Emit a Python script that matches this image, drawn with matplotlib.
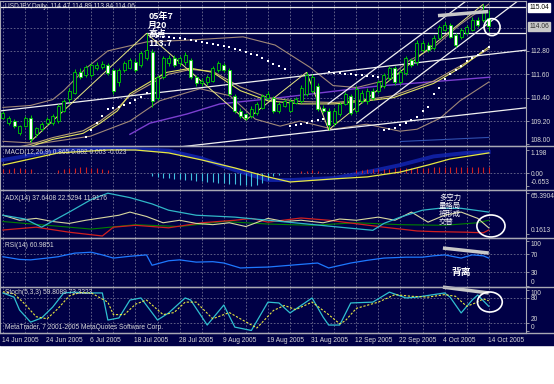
import numpy as np
import matplotlib.pyplot as plt
import matplotlib.transforms as mtransforms
from matplotlib.patches import Ellipse, Rectangle
from matplotlib.lines import Line2D

plt.rcParams['font.family'] = ['Liberation Sans', 'DejaVu Sans']

# USDJPY daily, bars 0..88 = 14 Jun 2005 .. 14 Oct 2005
opens = [109.35, 109.09, 109.20, 108.57, 108.94, 109.35, 108.52, 108.78, 109.09, 109.09,
         109.20, 109.72, 110.34, 110.66, 111.70, 111.54, 111.54, 111.91, 111.96, 112.06,
         111.80, 111.18, 111.80, 111.91, 112.22, 112.06, 112.43, 112.74, 110.40, 111.44,
         112.17, 112.43, 112.17, 112.22, 112.32, 111.44, 111.13, 111.18, 111.28, 111.80,
         112.06, 111.80, 110.50, 109.72, 109.56, 109.46, 109.61, 109.88, 110.40, 110.40,
         109.72, 109.98, 109.72, 110.14, 110.24, 110.60, 110.76, 111.02, 109.88, 109.72,
         109.09, 109.56, 110.08, 110.50, 109.72, 110.24, 110.24, 110.76, 110.76, 111.02,
         111.39, 111.91, 111.18, 111.65, 112.32, 112.22, 112.84, 113.10, 112.95, 113.47,
         113.89, 114.15, 113.63, 113.52, 113.73, 113.89, 114.41, 114.41, 114.47]
highs = [109.70, 109.45, 109.30, 109.00, 109.45, 109.50, 108.90, 109.15, 109.40, 109.55,
         110.10, 110.35, 110.90, 111.85, 111.90, 112.10, 112.20, 112.25, 112.30, 112.20,
         111.90, 111.90, 112.30, 112.45, 112.40, 112.80, 113.70, 112.90, 111.55, 112.55,
         112.60, 112.60, 112.55, 112.75, 112.45, 111.55, 111.40, 111.55, 112.00, 112.30,
         112.20, 111.90, 110.60, 109.85, 109.60, 109.95, 110.20, 110.60, 110.75, 110.50,
         110.20, 110.35, 110.35, 110.45, 111.05, 111.70, 111.60, 111.15, 110.00, 109.85,
         109.85, 110.20, 110.70, 110.60, 111.00, 110.80, 110.90, 110.90, 111.30, 111.65,
         112.05, 112.00, 111.85, 112.55, 112.45, 113.35, 113.35, 113.25, 113.60, 114.15,
         114.30, 114.25, 113.70, 114.00, 114.15, 114.55, 114.55, 115.19, 114.89]
lows = [109.30, 109.00, 108.85, 108.50, 108.90, 108.15, 108.40, 108.70, 109.00, 109.00,
        109.10, 109.65, 110.20, 110.60, 111.35, 111.45, 111.45, 111.80, 111.85, 111.55,
        110.60, 111.00, 111.70, 111.85, 111.70, 111.95, 112.35, 109.90, 110.30, 111.35,
        112.05, 111.95, 112.05, 112.10, 111.35, 111.00, 111.00, 111.05, 111.20, 111.70,
        111.70, 110.50, 109.60, 109.35, 109.25, 109.35, 109.50, 109.80, 110.30, 109.60,
        109.60, 109.90, 109.65, 110.05, 110.15, 110.50, 110.65, 109.70, 109.60, 108.75,
        108.95, 109.45, 110.00, 109.50, 109.60, 110.15, 110.10, 110.30, 110.65, 110.90,
        111.30, 111.05, 111.10, 111.55, 111.95, 112.10, 112.75, 112.75, 112.85, 113.40,
        113.80, 113.45, 113.00, 113.40, 113.65, 113.80, 114.05, 114.30, 113.84]
closes = [109.61, 109.35, 108.94, 108.94, 109.35, 108.26, 108.83, 109.04, 109.30, 109.46,
          109.98, 110.24, 110.76, 111.70, 111.44, 111.96, 112.06, 112.06, 112.11, 111.65,
          110.76, 111.80, 112.17, 112.32, 111.80, 112.69, 112.84, 110.24, 111.44, 112.43,
          112.43, 112.06, 112.43, 112.58, 111.44, 111.13, 111.28, 111.44, 111.91, 112.17,
          111.80, 110.60, 109.72, 109.46, 109.35, 109.82, 110.08, 110.50, 110.60, 109.72,
          110.08, 110.24, 110.24, 110.34, 110.92, 111.54, 111.44, 109.82, 109.72, 109.00,
          109.72, 110.08, 110.60, 109.61, 110.86, 110.66, 110.76, 110.40, 111.18, 111.54,
          111.91, 111.18, 111.70, 112.43, 112.06, 113.21, 113.21, 112.84, 113.47, 114.04,
          114.15, 113.52, 113.10, 113.89, 114.04, 114.41, 114.15, 114.77, 114.06]

date_pos = [0, 8, 16, 24, 32, 40, 48, 56, 64, 72, 80, 88]
date_labels = ['14 Jun 2005', '24 Jun 2005', '6 Jul 2005', '18 Jul 2005', '28 Jul 2005',
               '9 Aug 2005', '19 Aug 2005', '31 Aug 2005', '12 Sep 2005', '22 Sep 2005',
               '4 Oct 2005', '14 Oct 2005']

# parabolic SAR dots
sar_idx = list(range(15, 27)) + list(range(27, 52)) + list(range(52, 59)) + list(range(59, 69)) + list(range(69, 89))
sar_val = [108.40, 108.75, 109.10, 109.45, 109.80, 109.85, 109.90, 110.00, 110.15, 110.30, 110.45, 110.65,
           113.70, 113.55, 113.52, 113.50, 113.47, 113.44, 113.40, 113.36, 113.30, 113.26, 113.21, 113.15,
           113.10, 113.05, 113.00, 112.90, 112.84, 112.74, 112.66, 112.58, 112.45, 112.30, 112.15, 112.00, 111.85,
           108.95, 109.00, 109.04, 109.09, 109.20, 109.25, 109.30,
           111.70, 111.68, 111.65, 111.62, 111.60, 111.58, 111.55, 111.52, 111.50, 111.47,
           108.75, 108.78, 108.83, 109.00, 109.10, 109.25, 109.40, 109.70, 109.90, 110.60,
           110.90, 111.35, 111.60, 111.80, 112.05, 112.30, 112.45, 112.60, 112.80, 113.00]

# moving averages / bands
ma_y_idx = [0, 5, 9, 14.5, 17.6, 20.7, 23, 28, 29.7, 34, 38, 43, 48, 54, 60, 66, 70.7, 78, 83, 88]
ma_y_val = [107.60, 107.90, 108.26, 108.57, 109.09, 109.72, 110.60, 111.44, 111.70, 111.91, 111.70,
            110.76, 110.24, 110.08, 110.08, 110.24, 110.40, 111.13, 111.96, 113.00]
ma_t_idx = [0, 5, 9, 14.5, 17.6, 20.7, 23, 28, 30, 34, 38, 43, 48, 54, 60, 66, 70.7, 78, 83, 88]
ma_t_val = [107.70, 108.00, 108.35, 108.70, 109.20, 109.85, 110.50, 111.30, 111.60, 111.85, 111.75,
            110.95, 110.40, 110.20, 110.15, 110.30, 110.50, 111.25, 112.05, 112.90]
ma_p_idx = [23, 26.6, 33.3, 39.3, 50.2, 68, 88.2]
ma_p_val = [108.52, 109.09, 109.56, 110.08, 110.40, 111.00, 111.45]
bb_up_idx = [0, 5, 9, 11, 15, 19, 26, 34, 43.5, 49.3, 55.6, 59.8, 64.1, 69.2, 73.7, 77.9, 82.8, 88]
bb_up_val = [109.90, 110.00, 110.30, 110.76, 111.90, 112.80, 113.26, 113.36, 113.52, 113.10, 111.96,
             111.02, 110.92, 111.28, 112.32, 112.95, 114.15, 115.20]
bb_lo_idx = [0, 6.7, 15.8, 23, 28.4, 35.7, 41.1, 45.7, 50.2, 53.8, 59.8, 65.9, 71.9, 75, 79.2, 82.8, 88]
bb_lo_val = [108.16, 108.05, 108.42, 109.20, 110.24, 110.86, 110.50, 109.30, 108.94, 109.20, 108.78,
             109.04, 108.68, 108.78, 109.35, 110.24, 111.20]
blue_low_idx = [72, 88]
blue_low_val = [108.15, 108.36]

# zigzag and drawn lines
zz_idx = [5, 26, 44, 55, 59, 87]
zz_val = [108.15, 113.70, 109.25, 111.70, 108.75, 115.19]
line1 = ([-0.54, 94.75], [109.72, 112.84])
line2 = ([31.0, 94.75], [107.84, 109.88])
chan_up = ([58.9, 94.75], [110.08, 117.65])
chan_lo = ([64.1, 94.75], [109.09, 115.68])
high_0720 = ([26, 94.75], [113.70, 113.70])
div_main = ([78.8, 87.9], [114.61, 114.82])

# MACD
macd_hist = [0.20, 0.22, 0.25, 0.25, 0.22, 0.18, 0, 0, 0, 0,
             0.15, 0.20, 0.25, 0.28, 0.30, 0.30, 0.28, 0.25, 0.20, 0.15,
             0, 0, 0, 0, 0, 0, 0,
             -0.15, -0.20, -0.25, -0.28, -0.30, -0.32, -0.35, -0.38, -0.40, -0.42, -0.45,
             -0.48, -0.50, -0.52, -0.55, -0.58, -0.60, -0.63, -0.65, -0.62, -0.50, -0.35,
             -0.15, -0.10, 0, 0, 0,
             0.10, 0.12, 0.15, 0.10,
             0, 0, 0, 0, 0, 0,
             0.15, 0.16, 0.18, 0.18, 0.20, 0.22, 0.22, 0.24, 0.25, 0.26, 0.26, 0.27, 0.28,
             0.28, 0.29, 0.30, 0.30, 0.30, 0.30, 0.29, 0.29, 0.30, 0.30, 0.31, 0.30]
macd_y_idx = [0, 10, 19, 24, 30, 36, 42, 48, 52, 60, 66, 72, 77, 81, 88]
macd_y_val = [0.41, 1.03, 1.18, 1.18, 1.03, 0.67, 0.26, -0.20, -0.46, -0.30, -0.20, 0.05, 0.41, 0.72, 1.03]
macd_b_idx = [0, 10, 20, 30, 36, 42, 48, 52, 60, 66, 72, 78, 84, 88]
macd_b_val = [0.67, 1.15, 1.28, 1.15, 0.75, 0.15, -0.36, -0.36, -0.26, 0.05, 0.41, 0.85, 1.03, 1.08]

# ADX
adx_idx = [0, 4, 7, 12, 16, 19, 23, 27, 30, 35, 42, 48, 54, 61, 67, 69, 72, 76, 79, 83, 88]
adx_val = [30, 24, 11, 35, 55, 65, 58, 48, 38, 30, 27, 22, 17, 11, 6, 17, 27, 38, 41, 41, 35]
adx_y_idx = [0, 3, 6, 9, 12, 15, 18, 21, 23, 26, 29, 32, 35, 38, 41, 44, 48, 51, 54, 58, 61, 64, 68,
             71, 74, 77, 80, 83, 86, 88]
adx_y_val = [30, 22, 25, 20, 17, 22, 26, 30, 35, 28, 18, 22, 17, 15, 18, 12, 25, 20, 22, 18, 24, 22, 27,
             22, 35, 19, 30, 35, 25, 10]
adx_r_idx = [0, 6, 12, 18, 20, 24, 30, 36, 42, 45, 48, 54, 59, 63, 69, 75, 78, 84, 87, 88]
adx_r_val = [6.5, 11, 3, -3, 11, 14, 10, 18, 22, 25, 19, 25.6, 22, 17.6, 11, 5, 4, 3, 2, 6.5]
adx_g_idx = [0, 8, 16, 24, 32, 40, 48, 56, 64, 72, 80, 86, 88]
adx_g_val = [20, 14, 8, 15, 12, 20, 16, 14, 18, 15, 14, 18, 22]

# RSI(14)
rsi_idx = [0, 1, 3, 5, 8, 10, 13, 16, 18, 20, 23, 26, 27, 30, 32, 35, 38, 40, 43, 45,
           48, 52, 55, 57, 59, 63, 66, 69, 73, 76, 78, 80, 83, 85, 87, 88]
rsi_val = [64, 62, 58, 57, 61, 64, 72, 74, 68, 61, 65, 68, 45, 55, 57, 52, 53, 50, 39, 40,
           41, 45, 48, 50, 39, 50, 56, 61, 63, 63, 66, 68, 61, 68, 66, 61]

# Stochastic(5,3,3)
stk_idx = [0, 2, 3, 5, 7, 9, 11, 13, 15, 18, 19, 21, 23, 25, 28, 30, 33, 34, 37, 40,
           42, 45, 48, 50, 52, 56, 58, 59, 61, 63, 67, 70, 73, 75, 80, 81, 83, 85, 86, 88]
stk_val = [92, 82, 51, 22, 32, 58, 92, 94, 92, 92, 27, 32, 75, 80, 27, 44, 80, 75, 15, 63,
           10, 2, 70, 68, 44, 80, 34, 15, 15, 68, 70, 94, 80, 82, 92, 82, 44, 75, 87, 60]
std_idx = [0, 2, 4, 6, 8, 10, 12, 14, 16, 19, 20, 22, 24, 26, 29, 31, 33, 35, 38, 41,
           43, 46, 49, 51, 53, 56, 59, 61, 62, 64, 68, 71, 74, 77, 80, 82, 84, 86, 87, 88]
std_val = [95, 90, 65, 35, 30, 55, 85, 93, 92, 70, 40, 40, 65, 75, 40, 45, 70, 70, 30, 45,
           30, 8, 50, 62, 52, 70, 40, 18, 25, 55, 70, 88, 84, 82, 88, 84, 60, 70, 78, 73]

W, H = 554, 384
bg = '#000046'
gridc = '#6C6C90'
edge = '#A8A8B4'
txt = '#D8D8D8'
green = '#00D000'
fs = 4.8
cjk = ['Noto Sans CJK SC', 'DejaVu Sans']

fig = plt.figure(figsize=(W / 100, H / 100), dpi=100)
fig.patch.set_facecolor('white')
fig.add_artist(Rectangle((0, 1 - 345 / H), 1, 345 / H, transform=fig.transFigure,
                         color=bg, zorder=-5))


def panel(top, bot, ylim, ticks, ticklabels, first_top=False, last_bottom=False):
    ax = fig.add_axes([0, 1 - bot / H, 526 / W, (bot - top) / H])
    ax.set_facecolor(bg)
    ax.set_xlim(-0.54, 94.75)
    ax.set_ylim(*ylim)
    ax.set_xticks([])
    ax.yaxis.tick_right()
    ax.set_yticks(ticks)
    ax.set_yticklabels(ticklabels)
    ax.tick_params(axis='y', color=edge, labelcolor=txt, labelsize=fs, length=2, width=0.6, pad=1.5)
    labs = ax.get_yticklabels()
    if first_top:
        labs[0].set_va('top')
    if last_bottom:
        labs[-1].set_va('bottom')
    for s in ax.spines.values():
        s.set_color(edge)
        s.set_linewidth(0.8)
    for k in range(0, 89, 4):
        ax.axvline(k, color=gridc, lw=0.6, ls=(0, (2, 2)), zorder=0.5)
    return ax


ax1 = panel(1, 146, (107.92, 115.36), [112.8, 111.6, 110.4, 109.2, 108.0],
            ['112.80', '111.60', '110.40', '109.20', '108.00'], last_bottom=True)
ax2 = panel(146, 190, (-0.872, 1.385), [1.198, 0.0, -0.653], ['1.198', '0.00', '-0.653'],
            first_top=True, last_bottom=True)
ax3 = panel(190, 238, (-6.2, 70.1), [65.3904, 0.1613], ['65.3904', '0.1613'],
            first_top=True, last_bottom=True)
ax4 = panel(238, 287, (-3.3, 105.6), [100, 70, 30, 0], ['100', '70', '30', '0'],
            first_top=True, last_bottom=True)
ax5 = panel(287, 333, (-4.1, 106.3), [100, 80, 20, 0], ['100', '80', '20', '0'],
            first_top=True, last_bottom=True)
ax5.get_yticklabels()[2].set_va('bottom')

# ---- main chart ----
for p in [109.2, 110.4, 111.6, 112.8, 114.0]:
    ax1.axhline(p, color=gridc, lw=0.6, ls=(0, (2, 2)), zorder=0.5)

ax1.plot(bb_up_idx, bb_up_val, color='#A08878', lw=0.8, zorder=1)
ax1.plot(bb_lo_idx, bb_lo_val, color='#A08878', lw=0.8, zorder=1)
ax1.plot(ma_p_idx, ma_p_val, color='#7B3FD0', lw=1.0, zorder=1)
ax1.plot(ma_t_idx, ma_t_val, color='#B8A070', lw=0.8, zorder=1)
ax1.plot(ma_y_idx, ma_y_val, color='#E0E060', lw=0.8, zorder=1)
ax1.plot(blue_low_idx, blue_low_val, color='#3050B0', lw=0.8, zorder=1)
for xs, ys in [line1, line2, chan_up, chan_lo, high_0720]:
    ax1.plot(xs, ys, color='#F0F0F0', lw=0.9, zorder=1.5)
ax1.axhline(115.04, color='#F0F0F0', lw=0.9, zorder=1.5)
ax1.plot(zz_idx, zz_val, color='#E8E880', lw=0.7, zorder=2)

idx = np.arange(len(closes))
o = np.array(opens)
c = np.array(closes)
bull = c >= o
ax1.vlines(idx, lows, highs, color=green, lw=0.7, zorder=3)
ax1.bar(idx, np.maximum(np.abs(c - o), 0.03), bottom=np.minimum(o, c), width=0.55,
        color=np.where(bull, bg, 'white'), edgecolor=green, linewidth=0.6, zorder=4)
ax1.scatter(sar_idx, sar_val, s=1.8, color='white', marker='s', linewidths=0, zorder=5)

ax1.plot(*div_main, color='#C8C8C8', lw=2.5, solid_capstyle='butt', zorder=6)
ax1.add_patch(Ellipse((88.6, 114.02), 2.9, 0.87, fill=False, ec='white', lw=1.2, zorder=7, clip_on=False))

ax1.text(0.01, 0.965, 'USDJPY,Daily  114.47 114.89 113.84 114.06', transform=ax1.transAxes,
         color=txt, fontsize=fs, va='center', ha='left')
ax1.text(26.3, 114.82, '05年7\n月20\n高点\n113.7', color='white', fontsize=6.4, va='top',
         ha='left', linespacing=1.0, weight='bold', family=cjk, zorder=8)

tr1 = mtransforms.blended_transform_factory(ax1.transAxes, ax1.transData)
ax1.text(1.006, 115.04, '115.04', transform=tr1, fontsize=fs, color='black', va='center', ha='left',
         bbox=dict(fc='white', ec='white', pad=0.6), clip_on=False)
ax1.text(1.006, 114.06, '114.06', transform=tr1, fontsize=fs, color='#303030', va='center', ha='left',
         bbox=dict(fc='#C8C8C8', ec='#C8C8C8', pad=0.6), clip_on=False)

# ---- MACD ----
ax2.axhline(0, color=gridc, lw=0.6, ls=(0, (2, 2)), zorder=0.5)
hist = np.array(macd_hist)
ax2.vlines(idx[hist > 0], 0, hist[hist > 0], color='#D02020', lw=0.8, zorder=2)
ax2.vlines(idx[hist < 0], hist[hist < 0], 0, color='#40C0E0', lw=0.8, zorder=2)
ax2.plot(macd_b_idx, macd_b_val, color='#1830D0', lw=2.8, alpha=0.65, zorder=1)
ax2.plot(macd_y_idx, macd_y_val, color='#E8E840', lw=0.9, zorder=3)
ax2.text(0.01, 0.86, 'MACD(12,26,9) 0.865 0.882 0.003 -0.023', transform=ax2.transAxes,
         color=txt, fontsize=fs, va='center', ha='left')

# ---- ADX ----
ax3.plot(adx_g_idx, adx_g_val, color='#008000', lw=0.8, zorder=1)
ax3.plot(adx_r_idx, adx_r_val, color='#D02020', lw=0.9, zorder=2)
ax3.plot(adx_y_idx, adx_y_val, color='#D8D8A0', lw=0.8, zorder=2)
ax3.plot(adx_idx, adx_val, color='#30B8C8', lw=0.9, zorder=3)
ax3.text(0.01, 0.83, 'ADX(14) 37.6408 22.5294 11.9176', transform=ax3.transAxes,
         color=txt, fontsize=fs, va='center', ha='left')
ax3.text(79.0, 63.5, '多空力\n量格局\n将形成\n交替', color='white', fontsize=5.3, va='top', ha='left',
         linespacing=0.98, family=cjk, zorder=8)
ax3.add_patch(Ellipse((88.4, 12.9), 5.1, 35, fill=False, ec='white', lw=1.2, zorder=7, clip_on=False))

# ---- RSI ----
for v in [70, 30]:
    ax4.axhline(v, color=gridc, lw=0.6, ls=(0, (2, 2)), zorder=0.5)
ax4.plot(rsi_idx, rsi_val, color='#1E78FF', lw=0.9, zorder=2)
ax4.plot([79.7, 88.0], [83.3, 72.2], color='#C8C8C8', lw=2.5, solid_capstyle='butt', zorder=6)
ax4.text(0.01, 0.84, 'RSI(14) 60.9851', transform=ax4.transAxes,
         color=txt, fontsize=fs, va='center', ha='left')
ax4.text(81.3, 29, '背离', color='white', fontsize=7, va='center', ha='left', weight='bold',
         family=cjk, zorder=8)

# ---- Stochastic ----
for v in [80, 20]:
    ax5.axhline(v, color=gridc, lw=0.6, ls=(0, (2, 2)), zorder=0.5)
ax5.plot(stk_idx, stk_val, color='#30C0D0', lw=0.9, zorder=2)
ax5.plot(std_idx, std_val, color='#E8E840', lw=0.8, ls=(0, (2, 1.5)), zorder=3)
ax5.plot([79.7, 88.0], [106, 92], color='#C8C8C8', lw=2.5, solid_capstyle='butt', zorder=6,
         clip_on=False)
ax5.add_patch(Ellipse((88.2, 70.3), 4.5, 48, fill=False, ec='white', lw=1.2, zorder=7, clip_on=False))
ax5.text(0.01, 0.87, 'Stoch(5,3,3) 59.8089 73.3223', transform=ax5.transAxes,
         color=txt, fontsize=fs, va='center', ha='left')
ax5.text(0.01, 0.11, 'MetaTrader, 7 2001-2005 MetaQuotes Software Corp.', transform=ax5.transAxes,
         color=txt, fontsize=fs, va='center', ha='left')

tr5 = mtransforms.blended_transform_factory(ax5.transData, ax5.transAxes)
for k, lab in zip(date_pos, date_labels):
    ax5.text(k - 0.2, -0.16, lab, transform=tr5, color=txt, fontsize=fs, va='center', ha='left',
             clip_on=False)

# panel separators across full width
for ypx in [146, 190, 238, 287, 333]:
    fig.add_artist(Line2D([0, 1], [1 - ypx / H, 1 - ypx / H], transform=fig.transFigure,
                          color=edge, lw=1.0, zorder=10))

fig.savefig('out.png', dpi=100, facecolor='white')
